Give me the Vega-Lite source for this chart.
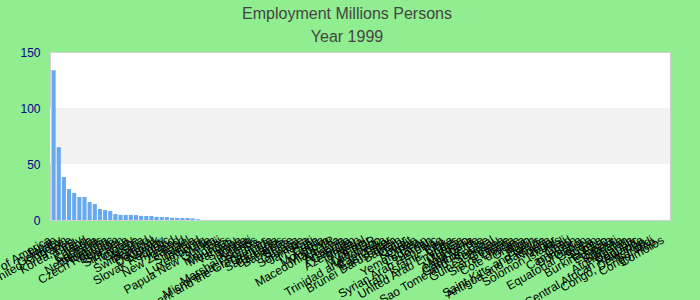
{
  "$schema": "https://vega.github.io/schema/vega-lite/v6.json",
  "width": 620,
  "height": 168,
  "autosize": "none",
  "padding": {"left": 50, "top": 52, "right": 30, "bottom": 80},
  "background": "#90EE90",
  "title": {
    "text": "Employment Millions Persons",
    "subtitle": "Year 1999",
    "anchor": "middle",
    "frame": "group",
    "dx": -13,
    "offset": 1,
    "font": "Liberation Sans",
    "fontSize": 16,
    "fontWeight": "normal",
    "color": "#444444",
    "subtitleFont": "Liberation Sans",
    "subtitleFontSize": 16,
    "subtitleColor": "#444444",
    "subtitlePadding": 7
  },
  "config": {
    "view": {"stroke": "#d0d0d0", "strokeWidth": 1, "fill": "white"}
  },
  "datasets": {
    "bands": [{"lo": 50, "hi": 100}],
    "employment": [
      {"country": "United States of America", "value": 133.6},
      {"country": "Japan", "value": 65.0},
      {"country": "Germany", "value": 38.3},
      {"country": "United Kingdom", "value": 27.6},
      {"country": "France", "value": 24.1},
      {"country": "Korea, Rep.", "value": 20.5},
      {"country": "Italy", "value": 20.5},
      {"country": "Poland", "value": 16.0},
      {"country": "Canada", "value": 14.3},
      {"country": "Australia", "value": 9.8},
      {"country": "Netherlands", "value": 8.9},
      {"country": "Romania", "value": 8.0},
      {"country": "Czech Republic", "value": 5.3},
      {"country": "Belgium", "value": 4.6},
      {"country": "Sweden", "value": 4.5},
      {"country": "Sri Lanka", "value": 4.5},
      {"country": "Hungary", "value": 4.4},
      {"country": "Greece", "value": 3.7},
      {"country": "Austria", "value": 3.6},
      {"country": "Switzerland", "value": 3.6},
      {"country": "Portugal", "value": 2.8},
      {"country": "Denmark", "value": 2.7},
      {"country": "Norway", "value": 2.6},
      {"country": "Slovak Republic", "value": 1.9},
      {"country": "Finland", "value": 1.9},
      {"country": "Ireland", "value": 1.8},
      {"country": "New Zealand", "value": 1.8},
      {"country": "Israel", "value": 1.4},
      {"country": "Slovenia", "value": 0.7},
      {"country": "Iceland", "value": 0},
      {"country": "Luxembourg", "value": 0},
      {"country": "Malta", "value": 0},
      {"country": "Papua New Guinea", "value": 0},
      {"country": "Fiji", "value": 0},
      {"country": "Maldives", "value": 0},
      {"country": "Mauritius", "value": 0},
      {"country": "Vanuatu", "value": 0},
      {"country": "Samoa", "value": 0},
      {"country": "Tonga", "value": 0},
      {"country": "Kiribati", "value": 0},
      {"country": "Marshall Islands", "value": 0},
      {"country": "Micronesia, Fed. Sts.", "value": 0},
      {"country": "Saint Vincent and the Grenadines", "value": 0},
      {"country": "Grenada", "value": 0},
      {"country": "Saint Lucia", "value": 0},
      {"country": "Barbados", "value": 0},
      {"country": "Bahamas", "value": 0},
      {"country": "Belize", "value": 0},
      {"country": "Guyana", "value": 0},
      {"country": "Suriname", "value": 0},
      {"country": "Jamaica", "value": 0},
      {"country": "Haiti", "value": 0},
      {"country": "Cuba", "value": 0},
      {"country": "Mongolia", "value": 0},
      {"country": "Moldova", "value": 0},
      {"country": "Macedonia, FYR", "value": 0},
      {"country": "Albania", "value": 0},
      {"country": "Armenia", "value": 0},
      {"country": "Georgia", "value": 0},
      {"country": "Azerbaijan", "value": 0},
      {"country": "Bhutan", "value": 0},
      {"country": "Nepal", "value": 0},
      {"country": "Myanmar", "value": 0},
      {"country": "Lao PDR", "value": 0},
      {"country": "Trinidad and Tobago", "value": 0},
      {"country": "Cambodia", "value": 0},
      {"country": "East Timor", "value": 0},
      {"country": "Brunei Darussalam", "value": 0},
      {"country": "Bahrain", "value": 0},
      {"country": "Qatar", "value": 0},
      {"country": "Kuwait", "value": 0},
      {"country": "Oman", "value": 0},
      {"country": "Yemen, Rep.", "value": 0},
      {"country": "Lebanon", "value": 0},
      {"country": "Jordan", "value": 0},
      {"country": "Syrian Arab Republic", "value": 0},
      {"country": "Iraq", "value": 0},
      {"country": "Iran, Islamic Rep.", "value": 0},
      {"country": "Libya", "value": 0},
      {"country": "United Arab Emirates", "value": 0},
      {"country": "Tunisia", "value": 0},
      {"country": "Morocco", "value": 0},
      {"country": "Mauritania", "value": 0},
      {"country": "Cape Verde", "value": 0},
      {"country": "Gambia, The", "value": 0},
      {"country": "Sao Tome and Principe", "value": 0},
      {"country": "Senegal", "value": 0},
      {"country": "Guinea-Bissau", "value": 0},
      {"country": "Guinea", "value": 0},
      {"country": "Sierra Leone", "value": 0},
      {"country": "Liberia", "value": 0},
      {"country": "Cote d'Ivoire", "value": 0},
      {"country": "Ghana", "value": 0},
      {"country": "Togo", "value": 0},
      {"country": "Benin", "value": 0},
      {"country": "Saint Kitts and Nevis", "value": 0},
      {"country": "Antigua and Barbuda", "value": 0},
      {"country": "Nigeria", "value": 0},
      {"country": "Niger", "value": 0},
      {"country": "Solomon Islands", "value": 0},
      {"country": "Mali", "value": 0},
      {"country": "Chad", "value": 0},
      {"country": "Cameroon", "value": 0},
      {"country": "Dominica", "value": 0},
      {"country": "Gabon", "value": 0},
      {"country": "Equatorial Guinea", "value": 0},
      {"country": "Sudan", "value": 0},
      {"country": "Eritrea", "value": 0},
      {"country": "Burkina Faso", "value": 0},
      {"country": "Ethiopia", "value": 0},
      {"country": "Djibouti", "value": 0},
      {"country": "Somalia", "value": 0},
      {"country": "Afghanistan", "value": 0},
      {"country": "Uganda", "value": 0},
      {"country": "Central African Republic", "value": 0},
      {"country": "Rwanda", "value": 0},
      {"country": "Congo, Dem. Rep.", "value": 0},
      {"country": "Burundi", "value": 0},
      {"country": "Congo, Rep.", "value": 0},
      {"country": "Comoros", "value": 0}
    ]
  },
  "layer": [
    {
      "data": {"name": "bands"},
      "mark": {"type": "rect", "color": "#f2f2f2"},
      "encoding": {
        "y": {"field": "lo", "type": "quantitative", "scale": {"domain": [0, 150]}},
        "y2": {"field": "hi"}
      }
    },
    {
      "data": {"name": "employment"},
      "mark": {"type": "bar", "color": "#66a9f0"},
      "encoding": {
        "x": {
          "field": "country",
          "type": "nominal",
          "sort": null,
          "scale": {"paddingInner": 0.2, "paddingOuter": 0.3},
          "axis": {
            "title": null,
            "domain": false,
            "ticks": false,
            "labelAngle": -30,
            "labelAlign": "right",
            "labelBaseline": "top",
            "labelPadding": 14,
            "labelOffset": -6,
            "labelFont": "Liberation Sans",
            "labelFontSize": 12,
            "labelColor": "#000000",
            "labelOverlap": false,
            "labelLimit": 0
          }
        },
        "y": {
          "field": "value",
          "type": "quantitative",
          "scale": {"domain": [0, 150]},
          "axis": {
            "title": null,
            "values": [0, 50, 100, 150],
            "grid": false,
            "domain": false,
            "ticks": false,
            "labelPadding": 10,
            "labelFont": "Liberation Sans",
            "labelFontSize": 12,
            "labelColor": "darkblue"
          }
        }
      }
    }
  ]
}
